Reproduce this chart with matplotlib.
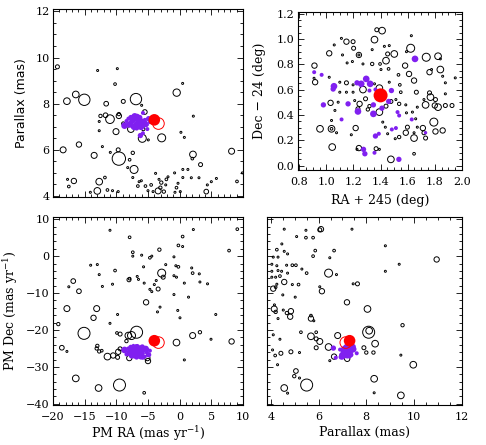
import numpy as np
import matplotlib
matplotlib.use('Agg')
import matplotlib.pyplot as plt
from matplotlib.ticker import MultipleLocator, FormatStrFormatter

plt.rcParams['font.family'] = ['DejaVu Serif']
plt.rcParams['mathtext.fontset'] = 'dejavuserif'

# cluster members (purple): proper motion, parallax, position, brightness
m_pmra = [-8.7, -8.4, -8.1, -7.9, -7.7, -7.6, -7.4, -7.2, -7.1, -6.9, -6.8, -6.8, -6.6, -6.5, -6.4, -6.3,
          -6.1, -6.0, -5.9, -5.8, -5.6, -5.5, -5.4, -5.2, -5.1, -4.9, -4.7, -7.3, -6.2, -5.3, -5.8, -6.7]
m_plx = [7.05, 7.25, 7.35, 7.1, 7.4, 7.2, 7.3, 7.0, 7.45, 7.15, 7.3, 6.95, 7.35, 7.1, 7.2, 7.4,
         7.0, 7.25, 7.15, 7.6, 7.05, 7.3, 7.2, 7.1, 6.9, 7.35, 7.2, 7.3, 6.62, 7.1, 6.72, 7.45]
m_pmdec = [-25.4, -26.6, -25.0, -26.2, -24.7, -27.0, -25.8, -26.8, -25.2, -24.4, -26.0, -27.3, -25.6, -24.9, -26.4, -25.1,
           -27.1, -25.9, -24.6, -26.3, -25.5, -27.2, -24.8, -26.1, -25.3, -26.7, -25.6, -24.2, -24.9, -25.0, -27.5, -24.5]
m_ra = [1.654, 0.91, 0.965, 1.056, 1.05, 1.226, 1.257, 1.294, 1.323, 1.318, 1.362, 1.48, 0.978, 1.16, 1.233, 1.347,
        1.347, 1.41, 1.46, 1.525, 1.537, 1.112, 1.63, 1.483, 1.513, 1.362, 1.387, 1.732, 1.274, 1.284, 1.355, 1.535]
m_dec = [0.843, 0.738, 0.717, 0.627, 0.605, 0.654, 0.646, 0.685, 0.646, 0.593, 0.601, 0.593, 0.48, 0.488, 0.428, 0.48,
         0.409, 0.454, 0.507, 0.423, 0.396, 0.365, 0.365, 0.286, 0.297, 0.234, 0.252, 0.26, 0.129, 0.094, 0.102, 0.05]
m_mag = [8, 10, 10, 8, 9, 9, 8, 8, 8, 10, 10, 9, 9, 9, 8, 9,
         8, 9, 9, 10, 10, 10, 10, 10, 10, 9, 10, 10.5, 9, 9, 10, 9]

# the target star (red), two measurements
red_pmra, red_pmdec, red_plx, red_ra, red_dec = -4.0, -22.9, 7.3, 1.40, 0.555
red2_pmra, red2_pmdec, red2_plx = -3.35, -23.4, 7.14

# field stars, panel 1: PM RA vs parallax
p1_pmra = [-19.3, -12.95, -9.84, -10.2, 0.47, -16.4, -17.8, -15.05, -6.9, -0.47, -11.6, -8.9, -6.0, 2.16, -12.5, -11.7,
           -11.0, -9.6, -9.6, -12.7, -12.7, -10.05, -7.7, -5.9, -2.84, -4.95, 0.2, 0.74, -5.5, -8.9, -5.74,
           -18.4, -15.9, -12.2, -13.5, -9.7, -9.6, -7.4, -10.95, -7.9, -7.2, -8.2, 2.1, 2.0, 3.3, 8.2, 9.9,
           9.05, -16.7, -17.7, -17.5, -12.7, -11.8, -13.0, -14.1, -11.4, -10.6, -9.7, -7.4, -6.6, -6.4, -6.05,
           -5.4, -4.5, -5.0, -4.2, -3.8, -3.26, -2.9, -3.05, -3.4, -2.5, -2.1, -1.84, -2.2, -0.8, -0.5, -0.26,
           -0.74, 0.1, 0.5, 1.3, 0.5, 1.84, 3.05, 4.37, 5.0, 5.8, 4.2]
p1_plx = [9.6, 9.44, 9.52, 8.85, 8.88, 8.4, 8.11, 8.17, 8.2, 8.48, 8.0, 8.1, 7.93, 7.46, 7.47, 7.5,
          7.33, 7.47, 7.55, 7.23, 6.83, 6.79, 6.9, 6.5, 6.52, 6.43, 6.76, 6.54, 7.64, 7.14, 6.9,
          6.0, 6.23, 6.14, 5.76, 6.0, 5.62, 5.87, 5.89, 5.57, 5.15, 5.23, 5.8, 5.62, 5.36, 5.94, 5.0,
          4.63, 4.65, 4.72, 4.41, 4.62, 4.8, 4.22, 4.16, 4.26, 4.23, 4.19, 4.8, 4.43, 4.62, 4.66,
          4.43, 4.48, 4.23, 4.19, 4.98, 4.72, 4.58, 4.36, 4.22, 4.19, 4.72, 4.83, 4.48, 5.0, 4.36, 4.55,
          4.16, 4.19, 5.15, 5.15, 4.8, 4.79, 4.79, 4.48, 4.62, 4.76, 4.19]
p1_mag = [10, 12, 12, 11, 11.5, 8, 8, 4.5, 4.5, 7.5, 9.5, 10, 12, 12, 10.5, 9.5,
          6.5, 9, 10.5, 12, 12, 8.5, 8, 7, 7, 12, 12, 12, 9.5, 10.5, 10.5,
          8.5, 9, 12, 8.5, 10, 3, 10.5, 12, 11, 7, 11.5, 8, 11, 10, 8.5, 12,
          11, 9, 12, 11, 8, 11, 8, 12, 11, 11.5, 11.5, 11.5, 11, 11.5, 11.5,
          11, 11, 11.5, 11.5, 12, 11.5, 10.5, 10.5, 8.5, 10.5, 11, 11.5, 11.5, 11.5, 11, 11.5,
          11.5, 11.5, 11.5, 11.5, 11.5, 11.5, 11.5, 11.5, 11.5, 11.5, 9.5]

# field stars, panel 2: RA + 245 vs Dec - 24
p2_ra = [1.372, 1.411, 1.355, 1.627, 1.622, 1.111, 1.148, 1.197, 1.058, 1.201, 1.021, 1.119, 1.240, 1.240, 1.428, 1.464,
         1.338, 1.452, 1.440, 1.501, 1.591, 1.153, 1.192, 1.270, 1.338, 1.396, 1.581, 1.737, 1.824, 1.841, 0.912, 0.917,
         0.909, 1.021, 1.403, 1.459, 1.532, 1.610, 1.647, 1.761, 1.841, 1.776, 1.858, 1.878, 1.951, 1.099, 1.148, 1.197,
         1.197, 1.148, 1.099, 1.270, 1.391, 1.355, 1.464, 1.542, 1.549, 1.664, 1.761, 1.768, 1.805, 1.878, 1.732, 1.800,
         1.824, 1.878, 1.927, 1.720, 1.031, 1.087, 1.063, 1.209, 1.245, 1.233, 1.289, 1.318, 1.306, 1.391, 1.440, 1.476,
         1.537, 1.586, 1.513, 1.635, 1.671, 1.659, 1.591, 1.793, 1.038, 0.953, 1.038, 1.038, 1.075, 1.216, 1.184, 1.416,
         1.435, 1.452, 1.508, 1.537, 1.586, 1.598, 1.647, 1.671, 1.647, 1.712, 1.720, 1.732, 1.805, 1.858, 1.043, 1.240,
         1.226, 1.367, 1.391, 1.476, 1.647]
p2_dec = [1.073, 1.066, 0.995, 1.026, 0.927, 1.005, 0.979, 0.979, 0.953, 0.927, 0.887, 0.874, 0.874, 0.874, 0.942, 0.948,
          0.916, 0.882, 0.829, 0.882, 0.900, 0.811, 0.822, 0.803, 0.803, 0.803, 0.790, 0.856, 0.864, 0.843, 0.790, 0.659,
          0.690, 0.698, 0.759, 0.764, 0.717, 0.724, 0.672, 0.738, 0.759, 0.759, 0.706, 0.654, 0.693, 0.659, 0.654, 0.638,
          0.580, 0.580, 0.580, 0.601, 0.612, 0.646, 0.659, 0.638, 0.580, 0.580, 0.575, 0.541, 0.522, 0.567, 0.480, 0.475,
          0.462, 0.475, 0.475, 0.522, 0.496, 0.501, 0.436, 0.514, 0.488, 0.449, 0.528, 0.470, 0.444, 0.423, 0.470, 0.507,
          0.488, 0.480, 0.522, 0.423, 0.462, 0.370, 0.417, 0.344, 0.357, 0.291, 0.291, 0.291, 0.260, 0.297, 0.244, 0.344,
          0.304, 0.252, 0.213, 0.226, 0.260, 0.304, 0.260, 0.304, 0.218, 0.297, 0.260, 0.218, 0.270, 0.278, 0.147, 0.139,
          0.129, 0.134, 0.129, 0.050, 0.094]
p2_mag = [10, 8, 8, 11.5, 7, 11.5, 9, 10, 11.5, 10, 9, 11.5, 9, 12, 11.5, 11.5,
          11.5, 10, 8, 8, 11.5, 11.5, 11.5, 11.5, 10.5, 11, 9, 7, 8, 12, 9, 9,
          12, 12, 11.5, 11, 11, 9, 9, 9, 8, 12, 11.5, 11.5, 11.5, 11.5, 10, 11.5,
          11.5, 11.5, 11.5, 8, 8, 11.5, 11.5, 11, 11, 10, 10, 8, 10, 11.5, 8, 9,
          8, 10, 10, 11.5, 9, 11.5, 11.5, 11.5, 9, 10, 10, 10.5, 10.5, 8, 10, 10,
          10.5, 11.5, 11.5, 11.5, 11.5, 11.5, 11.5, 7, 11.5, 8, 8, 11, 11.5, 9, 11.5, 11.5,
          11.5, 11.5, 11.5, 10.5, 9, 10, 11.5, 11.5, 8, 9, 10, 10, 9, 9, 8, 9,
          11.5, 10, 11.5, 8, 11]

# field stars, panel 3: PM RA vs PM Dec
p3_pmra = [-19.16, -18.6, -17.8, -16.8, -17.5, -15.9, -17.8, -15.1, -16.4, -12.8, -9.5, -13.6, -13.1, -14.05, -13.0, -12.7,
           -12.2, -11.0, -10.2, -10.6, -9.8, -11.0, -7.9, -7.4, -7.4, -6.0, -4.7, -4.4, -3.2, -5.7, -7.9, -6.7,
           -6.5, -5.6, -4.7, -4.0, -3.4, -5.3, -2.84, -2.6, -3.1, -3.5, -4.4, -0.9, -0.6, -0.2, -0.5, -0.9,
           -0.3, 0.05, -0.9, -0.2, 0.47, 0.47, 0.74, 1.4, 1.9, 2.05, 2.16, 3.1, 3.2, 4.4, 5.7, 7.8,
           9.1, 8.2, 4.95, 2.05, 3.2, -0.5, 0.74, -5.6, -13.0, -13.1, -12.7, -12.3, -11.4, -10.5, -9.7, -9.4,
           -8.1, -6.8, -7.6, -7.95, -5.1, -5.0, -9.8, -9.9, -9.4, -8.4, -2.2, -8.0, -3.7]
p3_pmdec = [-18.4, -24.8, -25.8, -6.75, -8.3, -9.5, -14.2, -20.9, -33.1, -35.7, -34.9, -16.7, -14.2, -2.46, -2.28, -5.0,
            -8.2, 7.0, -3.9, -7.6, -15.8, -18.2, 5.1, 1.05, 0.0, 0.26, -0.44, 0.0, 1.75, -2.9, -6.1, -5.5,
            -6.3, -7.3, -9.0, -7.7, -8.9, -12.5, -4.6, -5.7, -13.8, -15.1, -9.6, -0.2, -2.6, -2.9, -5.7, -5.3,
            -14.7, -16.7, -10.4, 2.9, 5.3, 2.6, -7.3, -11.1, -3.2, -4.6, 7.2, -4.8, -7.0, -7.5, -15.8, 1.5,
            7.3, -23.1, -22.5, -21.5, -20.6, -23.4, -28.1, -37.0, -24.3, -25.0, -25.8, -25.6, -27.2, -26.9, -25.9, -25.1,
            -21.5, -20.6, -21.5, -27.6, -27.6, -28.4, -27.4, -20.8, -21.1, -23.0, -2.3, -6.4, -6.6]
p3_mag = [10.5, 9.5, 11.5, 9.5, 11.5, 9.5, 8.5, 4, 8, 8, 4, 9, 8.5, 11.5, 11.5, 11.5,
          11.5, 11.5, 11, 11.5, 12, 11.5, 11, 11, 11.5, 11.5, 11, 11.5, 10.5, 12, 11, 11.5,
          11.5, 11.5, 11.5, 11.5, 10, 9, 7, 10, 11.5, 12, 11.5, 11.5, 11.5, 11, 11.5, 11.5,
          12, 11.5, 11.5, 11, 11, 11.5, 11.5, 11.5, 11.5, 11, 11.5, 11.5, 11.5, 11.5, 11.5, 11,
          11, 9, 11.5, 8.5, 10.5, 8, 11.5, 11, 10.5, 10.5, 10.5, 11, 8, 9, 9, 10,
          8, 4, 7, 9, 9, 9, 10, 11, 10, 10.5, 11.5, 10, 11.5]

# field stars, panel 4: parallax vs PM Dec
p4_plx = [4.56, 5.47, 5.08, 5.47, 5.77, 6.1, 6.05, 7.4, 4.46, 4.25, 4.56, 4.7, 4.1, 4.3, 5.86, 5.77,
          6.47, 6.65, 8.8, 10.95, 9.38, 4.04, 4.25, 4.66, 4.9, 5.05, 4.04, 4.3, 4.45, 4.7, 5.3, 5.5,
          6.42, 6.75, 8.8, 4.04, 4.2, 4.38, 4.56, 4.9, 4.25, 4.1, 4.2, 4.5, 5.16, 6.05, 6.14, 7.45,
          7.63, 5.02, 7.19, 4.14, 4.2, 4.52, 4.67, 4.84, 4.81, 4.3, 4.15, 5.68, 5.68, 5.8, 8.05, 9.52,
          4.1, 4.38, 5.26, 5.68, 5.9, 5.9, 6.05, 5.9, 6.8, 6.42, 8.1, 8.12, 8.37, 7.9, 8.0, 8.3,
          4.07, 4.18, 4.42, 4.84, 5.2, 4.28, 6.65, 6.47, 7.2, 9.45, 9.97, 5.05, 4.98, 5.2, 5.5, 4.56,
          4.7, 8.33, 8.33, 9.45]
p4_pmdec = [7.3, 7.0, 5.3, 5.0, 5.0, 7.3, 7.1, 7.3, 3.3, 1.75, 1.3, 0.6, -0.26, -0.26, 1.5, 0.0,
            -0.44, 1.5, 2.8, -0.9, -2.2, -2.2, -2.6, -2.46, -2.46, -2.46, -4.1, -3.9, -4.1, -4.6, -3.5, -4.6,
            -4.6, -5.0, -4.1, -5.7, -5.7, -5.4, -7.0, -7.7, -7.6, -8.8, -8.4, -10.5, -7.7, -8.3, -9.5, -7.5,
            -7.5, -11.1, -12.5, -14.3, -15.1, -14.6, -15.4, -14.9, -16.4, -16.9, -13.2, -16.1, -16.9, -17.5, -14.3, -18.7,
            -21.3, -22.5, -20.6, -21.7, -20.6, -22.4, -23.1, -24.8, -21.5, -24.6, -20.6, -20.2, -23.7, -24.8, -26.1, -26.1,
            -25.4, -26.9, -26.3, -25.9, -26.1, -29.4, -27.2, -28.3, -27.8, -26.8, -29.4, -31.1, -32.5, -33.0, -34.9, -35.7,
            -37.1, -33.2, -37.0, -37.7]
p4_mag = [11.5, 11.5, 11.5, 11, 11, 9, 10, 11.5, 11.5, 11, 11.5, 11.5, 11.5, 11.5, 11, 11,
          11.5, 11, 11.5, 9, 11.5, 11.5, 11.5, 11.5, 11, 11, 11.5, 11.5, 11.5, 11.5, 11.5, 11,
          7, 11.5, 11.5, 11.5, 11.5, 11, 9, 11.5, 11.5, 9, 11, 11.5, 11, 11.5, 9, 11.5,
          10, 11.5, 9, 8.5, 10.5, 11.5, 10.5, 9, 9, 11.5, 11.5, 11, 9, 11.5, 8, 10.5,
          11.5, 11.5, 11, 8, 11, 10, 8.5, 10, 8.5, 8, 4, 8, 8, 10, 10.5, 10.5,
          11.5, 11, 10, 10, 11.5, 11.5, 9, 11.5, 9, 11.5, 8, 9.5, 10.5, 11.5, 4, 8,
          11.5, 8, 11.5, 8]

purple = '#8020F0'
PX = 0.72  # points per pixel at dpi 100


def msize(mag):
    r = np.maximum((13.0 - np.asarray(mag, dtype=float)) * 2.0 / 3.0, 1.0)
    return (2 * r * PX) ** 2


def draw(ax, fx, fy, fmag, mx, my, rx, ry, r2x=None, r2y=None, rrad=5.8):
    ax.scatter(fx, fy, s=msize(fmag), facecolors='none', edgecolors='k', linewidths=0.7, zorder=2)
    ax.scatter(mx, my, s=msize(m_mag), color=purple, edgecolors='none', zorder=3)
    if r2x is not None:
        ax.scatter([r2x], [r2y], s=(2 * rrad * PX) ** 2, facecolors='none', edgecolors='red',
                   linewidths=0.7, zorder=4)
    ax.scatter([rx], [ry], s=(2 * rrad * PX) ** 2, color='red', edgecolors='none', zorder=5)


def style(ax, xmaj, xmin, ymaj, ymin):
    ax.xaxis.set_major_locator(MultipleLocator(xmaj))
    ax.xaxis.set_minor_locator(MultipleLocator(xmin))
    ax.yaxis.set_major_locator(MultipleLocator(ymaj))
    ax.yaxis.set_minor_locator(MultipleLocator(ymin))
    ax.tick_params(which='both', direction='in', top=True, right=True, width=0.6, labelsize=8)
    ax.tick_params(which='major', length=4)
    ax.tick_params(which='minor', length=2)
    ax.tick_params(axis='x', pad=5)
    ax.tick_params(axis='y', pad=2.5)
    for sp in ax.spines.values():
        sp.set_linewidth(0.8)


fig = plt.figure(figsize=(4.86, 4.45), dpi=100)
ax1 = fig.add_axes([0.109, 0.557, 0.391, 0.4225])
ax2 = fig.add_axes([0.613, 0.618, 0.3374, 0.355])
ax3 = fig.add_axes([0.109, 0.0899, 0.391, 0.4225])
ax4 = fig.add_axes([0.549, 0.0899, 0.401, 0.4225])

# panel 1
draw(ax1, p1_pmra, p1_plx, p1_mag, m_pmra, m_plx, red_pmra, red_plx, red2_pmra, red2_plx)
ax1.set_xlim(-20, 10)
ax1.set_ylim(3.95, 12.1)
style(ax1, 5, 1, 2, 0.5)
ax1.tick_params(axis='x', labelbottom=False)
ax1.set_ylabel('Parallax (mas)', fontsize=9, family=['DejaVu Sans'])
ax1.yaxis.set_label_coords(-0.13, 0.5)

# panel 2
draw(ax2, p2_ra, p2_dec, p2_mag, m_ra, m_dec, red_ra, red_dec, rrad=7.0)
ax2.set_xlim(0.79, 2.0)
ax2.set_ylim(-0.034, 1.213)
style(ax2, 0.2, 0.05, 0.2, 0.05)
ax2.xaxis.set_major_formatter(FormatStrFormatter('%.1f'))
ax2.yaxis.set_major_formatter(FormatStrFormatter('%.1f'))
ax2.set_xlabel('RA + 245 (deg)', fontsize=9)
ax2.set_ylabel('Dec \u2212 24 (deg)', fontsize=9)
ax2.xaxis.set_label_coords(0.5, -0.15)
ax2.yaxis.set_label_coords(-0.195, 0.5)

# panel 3
draw(ax3, p3_pmra, p3_pmdec, p3_mag, m_pmra, m_pmdec, red_pmra, red_pmdec, red2_pmra, red2_pmdec)
ax3.set_xlim(-20, 10)
ax3.set_ylim(-40.3, 10.6)
style(ax3, 5, 1, 10, 2)
ax3.set_xlabel('PM RA (mas yr$^{-1}$)', fontsize=9)
ax3.set_ylabel('PM Dec (mas yr$^{-1}$)', fontsize=9)
ax3.xaxis.set_label_coords(0.5, -0.1)
ax3.yaxis.set_label_coords(-0.175, 0.5)

# panel 4
draw(ax4, p4_plx, p4_pmdec, p4_mag, m_plx, m_pmdec, red_plx, red_pmdec, red2_plx, red2_pmdec)
ax4.set_xlim(3.83, 12)
ax4.set_ylim(-40.3, 10.6)
style(ax4, 2, 0.5, 10, 2)
ax4.tick_params(axis='y', labelleft=False)
ax4.set_xlabel('Parallax (mas)', fontsize=9)
ax4.xaxis.set_label_coords(0.5, -0.11)

fig.savefig('out.png', dpi=100)
